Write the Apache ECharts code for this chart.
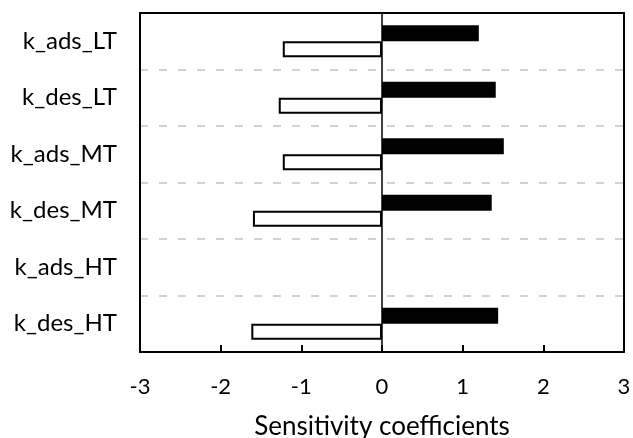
<!DOCTYPE html>
<html>
<head>
<meta charset="utf-8">
<script src="https://cdn.jsdelivr.net/npm/echarts@6/dist/echarts.min.js"></script>
<style>html,body{margin:0;padding:0;background:#fff}#c{width:633px;height:438px}</style>
</head>
<body>
<div id="c"></div>
<script>
const categories = ['k_ads_LT', 'k_des_LT', 'k_ads_MT', 'k_des_MT', 'k_ads_HT', 'k_des_HT'];
const positiveValues = [1.20, 1.41, 1.51, 1.36, null, 1.44];
const negativeValues = [-1.23, -1.28, -1.23, -1.60, null, -1.62];
const xTicks = [-3, -2, -1, 0, 1, 2, 3];

const FONT = 'Lato';
const frameLine = {show: true, onZero: false, lineStyle: {color: '#000', width: 2}};
const chart = echarts.init(document.getElementById('c'), null, {renderer: 'canvas'});
chart.setOption({
  animation: false,
  backgroundColor: '#fff',
  grid: {left: 140, right: 9, top: 13, bottom: 86, show: false, containLabel: false, outerBoundsMode: 'none'},
  xAxis: [{
    type: 'value', min: xTicks[0], max: xTicks[xTicks.length - 1], interval: 1,
    name: 'Sensitivity coefficients', nameLocation: 'middle', nameGap: 62,
    nameTextStyle: {fontFamily: FONT, fontSize: 26, color: '#000'},
    axisLine: frameLine, z: 5,
    axisTick: {show: true, inside: true, length: 7, lineStyle: {color: '#000', width: 2}},
    axisLabel: {fontFamily: FONT, fontSize: 22, color: '#000', margin: 24},
    splitLine: {show: false}
  }, {
    type: 'value', position: 'top', min: xTicks[0], max: xTicks[xTicks.length - 1], interval: 1,
    axisLine: frameLine, z: 5,
    axisTick: {show: false}, axisLabel: {show: false}, splitLine: {show: false}
  }],
  yAxis: [{
    type: 'category', data: categories, inverse: true,
    axisLine: frameLine, z: 5,
    axisTick: {show: false},
    axisLabel: {fontFamily: FONT, fontSize: 24, color: '#000', margin: 23},
    splitLine: {show: true, lineStyle: {color: '#c4c4c4', width: 1.5, type: [8, 11]}}
  }, {
    type: 'category', data: categories, inverse: true, position: 'right',
    axisLine: frameLine, z: 5,
    axisTick: {show: false}, axisLabel: {show: false}, splitLine: {show: false}
  }],
  series: [
    {
      type: 'bar', data: positiveValues, barWidth: 16, barGap: '0%',
      itemStyle: {color: '#000'},
      markLine: {silent: true, symbol: 'none', label: {show: false},
        lineStyle: {color: '#000', width: 1.5, type: 'solid'}, data: [{xAxis: 0}]}
    },
    {
      type: 'bar', data: negativeValues, barWidth: 16, barGap: '0%',
      itemStyle: {color: '#fff', borderColor: '#000', borderWidth: 2}
    }
  ]
});
</script>
</body>
</html>
